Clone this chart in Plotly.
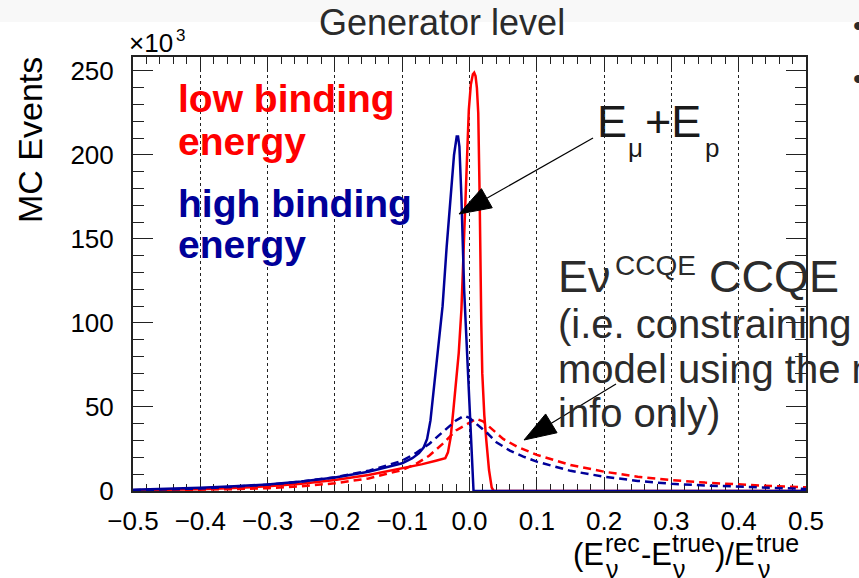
import plotly.graph_objects as go

# ---------------------------------------------------------------- geometry
W, H = 859, 578
L, R, T, B = 133, 806, 57, 491          # frame edges in page pixels


def px_x(px):
    return (px - L) / (R - L)


def px_y(py):
    return (B - py) / (B - T)


# ---------------------------------------------------------------- data
# (E_rec - E_true)/E_true  vs  MC events (in units of 10^3)
low_emup_x = [-0.5, -0.45, -0.4, -0.35, -0.3, -0.25, -0.2, -0.15, -0.1, -0.07,
              -0.05, -0.036, -0.032, -0.028, -0.024, -0.020, -0.016, -0.012,
              -0.009, -0.006, -0.003, -0.001, 0.002, 0.005, 0.007, 0.009,
              0.011, 0.013, 0.015, 0.016, 0.0175, 0.019, 0.022, 0.025, 0.029,
              0.033, 0.036, 0.04, 0.5]
low_emup_y = [0.4, 0.7, 1.1, 1.8, 2.8, 4.3, 6.5, 9.5, 13.3, 16.0,
              18.0, 19.5, 23.0, 32.0, 48.0, 64.0, 82.0, 108.0,
              140.0, 177.0, 208.0, 227.0, 242.0, 248.0, 249.0, 247.0,
              240.0, 225.0, 177.0, 130.0, 100.0, 70.0, 45.0, 30.0, 12.5,
              2.0, 0.0, 0.0, 0.0]

high_emup_x = [-0.5, -0.45, -0.4, -0.35, -0.3, -0.25, -0.2, -0.15, -0.1, -0.085,
               -0.075, -0.068, -0.063, -0.058, -0.053, -0.047, -0.04, -0.034,
               -0.028, -0.023, -0.019, -0.017, -0.015, -0.012, -0.008, -0.004,
               0.0, 0.003, 0.006, 0.5]
high_emup_y = [0.8, 1.3, 1.9, 2.8, 3.9, 5.6, 8.0, 11.5, 16.5, 19.5,
               22.5, 26.0, 31.0, 42.0, 62.0, 85.0, 110.0, 145.0,
               177.0, 200.0, 211.0, 211.0, 205.0, 175.0, 120.0, 85.0,
               45.0, 18.0, 0.0, 0.0]

low_ccqe_x = [-0.5, -0.45, -0.4, -0.35, -0.3, -0.25, -0.2, -0.15, -0.1, -0.08,
              -0.06, -0.04, -0.02, 0.0, 0.01, 0.02, 0.03, 0.05, 0.07, 0.1,
              0.15, 0.2, 0.25, 0.3, 0.35, 0.4, 0.45, 0.5]
low_ccqe_y = [0.2, 0.4, 0.7, 1.1, 1.7, 2.8, 4.6, 7.5, 12.5, 16.0,
              21.0, 28.0, 36.0, 41.0, 43.0, 41.5, 38.0, 31.0, 26.5, 21.5,
              15.5, 11.5, 8.5, 6.5, 5.0, 3.8, 2.9, 2.2]

high_ccqe_x = [-0.5, -0.45, -0.4, -0.35, -0.3, -0.25, -0.2, -0.15, -0.1, -0.08,
               -0.06, -0.04, -0.02, -0.008, 0.0, 0.01, 0.025, 0.04, 0.06, 0.08,
               0.1, 0.15, 0.2, 0.25, 0.3, 0.35, 0.4, 0.45, 0.5]
high_ccqe_y = [0.5, 0.9, 1.5, 2.5, 3.8, 5.6, 8.2, 12.0, 18.0, 22.5,
               28.0, 35.0, 42.0, 44.8, 43.5, 40.0, 35.0, 29.0, 24.0, 20.5,
               17.5, 12.0, 8.5, 6.0, 4.3, 3.3, 2.6, 1.8, 1.2]

x_ticks = [-0.5, -0.4, -0.3, -0.2, -0.1, 0.0, 0.1, 0.2, 0.3, 0.4, 0.5]
y_ticks = [0, 50, 100, 150, 200, 250]

RED = "#ff0000"
BLUE = "#000099"
TEXT = "#2b2b2b"
FONT = "Liberation Sans"

# ---------------------------------------------------------------- traces
fig = go.Figure()
for xs, ys, col, dash in [
    (low_emup_x, low_emup_y, RED, "solid"),
    (low_ccqe_x, low_ccqe_y, RED, "8px,5px"),
    (high_emup_x, high_emup_y, BLUE, "solid"),
    (high_ccqe_x, high_ccqe_y, BLUE, "8px,5px"),
]:
    fig.add_trace(go.Scatter(x=xs, y=ys, mode="lines", showlegend=False,
                             line=dict(color=col, width=2.5, dash=dash),
                             hoverinfo="skip"))

# ---------------------------------------------------------------- text
anns = []


def label(text, left, baseline, size, color=TEXT, bold=False, angle=0,
          xanchor="left"):
    anns.append(dict(
        text=f"<b>{text}</b>" if bold else text,
        xref="paper", yref="paper",
        x=px_x(left), y=px_y(baseline - 0.3465 * size),
        xanchor=xanchor, yanchor="middle", showarrow=False,
        borderpad=0, textangle=angle,
        font=dict(family=FONT, size=size, color=color)))


# page heading and bullets
label("Generator level", 442, 35, 36, xanchor="center")
label("•", 852, 36, 30)
label("•", 852, 89, 30)

# axis multiplier
label("×10", 128, 52, 26, color="black")
label("3", 175, 41, 17, color="black")

# y title (rotated)
anns.append(dict(text="MC Events", xref="paper", yref="paper",
                 x=px_x(30), y=px_y(140), xanchor="center", yanchor="middle",
                 textangle=-90, showarrow=False, borderpad=0,
                 font=dict(family=FONT, size=34, color="black")))

# x title pieces
S, s = 31, 25
label("(E", 572, 565, S, color="black")
label("rec", 604, 552, s, color="black")
label("ν", 605, 578, s, color="black")
label("-E", 640, 565, S, color="black")
label("true", 671, 552, s, color="black")
label("ν", 672, 578, s, color="black")
label(")/E", 714, 565, S, color="black")
label("true", 755, 552, s, color="black")
label("ν", 757, 578, s, color="black")

# legend-like labels
label("low binding", 177, 112, 39, color=RED, bold=True)
label("energy", 177, 155, 39, color=RED, bold=True)
label("high binding", 177, 217, 39, color=BLUE, bold=True)
label("energy", 177, 258, 39, color=BLUE, bold=True)

# E_mu + E_p
label("E", 596, 137, 45, color="#1a1a1a")
label("μ", 627, 157, 26, color="#1a1a1a")
label("+E", 644, 137, 45, color="#1a1a1a")
label("p", 704, 157, 26, color="#1a1a1a")

# E_nu^CCQE block
label("Eν", 557, 292, 45)
label("CCQE", 614, 275, 28)
label("CCQE", 708, 292, 45)
label("(i.e. constraining", 557, 338, 40)
label("model using the muon", 557, 383, 40)
label("info only)", 557, 427, 40)

# ---------------------------------------------------------------- arrows
shapes = []


def arrow(tail, tip, head_len=32, head_half=11):
    dx, dy = tail[0] - tip[0], tail[1] - tip[1]
    n = (dx * dx + dy * dy) ** 0.5
    ux, uy = dx / n, dy / n
    bx, by = tip[0] + head_len * ux, tip[1] + head_len * uy
    px, py = -uy, ux
    v1 = (bx + head_half * px, by + head_half * py)
    v2 = (bx - head_half * px, by - head_half * py)
    shapes.append(dict(type="line", xref="paper", yref="paper",
                       x0=px_x(tail[0]), y0=px_y(tail[1]),
                       x1=px_x(bx), y1=px_y(by),
                       line=dict(color="black", width=1.2)))
    path = "M {} {} L {} {} L {} {} Z".format(
        px_x(tip[0]), px_y(tip[1]), px_x(v1[0]), px_y(v1[1]),
        px_x(v2[0]), px_y(v2[1]))
    shapes.append(dict(type="path", xref="paper", yref="paper", path=path,
                       fillcolor="black", line=dict(color="black", width=1)))


arrow((593, 138), (459, 214))
arrow((616, 384), (524, 440))

# light band along the top of the page
shapes.append(dict(type="rect", xref="paper", yref="paper", layer="below",
                   x0=px_x(0), x1=px_x(W), y0=px_y(0), y1=px_y(22),
                   fillcolor="#f8f8f8", line=dict(width=0)))

# ---------------------------------------------------------------- layout
axis_common = dict(
    showline=True, linecolor="#222", linewidth=2, mirror="allticks",
    ticks="inside", tickcolor="#222", tickwidth=1, zeroline=False,
    tickfont=dict(family=FONT, size=26, color="black"),
    layer="below traces",
)

fig.update_layout(
    width=W, height=H,
    margin=dict(l=L, r=W - R, t=T, b=H - B, pad=0),
    paper_bgcolor="white", plot_bgcolor="white",
    showlegend=False,
    xaxis=dict(range=[-0.5, 0.5], tickvals=x_ticks, tickformat=".1f",
               ticklen=12, showgrid=True, griddash="dot", gridcolor="#222",
               gridwidth=1, ticklabelstandoff=6,
               minor=dict(dtick=0.02, tick0=-0.5, ticks="inside", ticklen=7,
                          tickcolor="#222", showgrid=False),
               **axis_common),
    yaxis=dict(range=[0, 258.3], tickvals=y_ticks, ticklen=20,
               showgrid=False, ticklabelstandoff=12,
               minor=dict(dtick=10, tick0=0, ticks="inside", ticklen=11,
                          tickcolor="#222", showgrid=False),
               **axis_common),
    annotations=anns,
    shapes=shapes,
)

fig.write_html("out.html")
